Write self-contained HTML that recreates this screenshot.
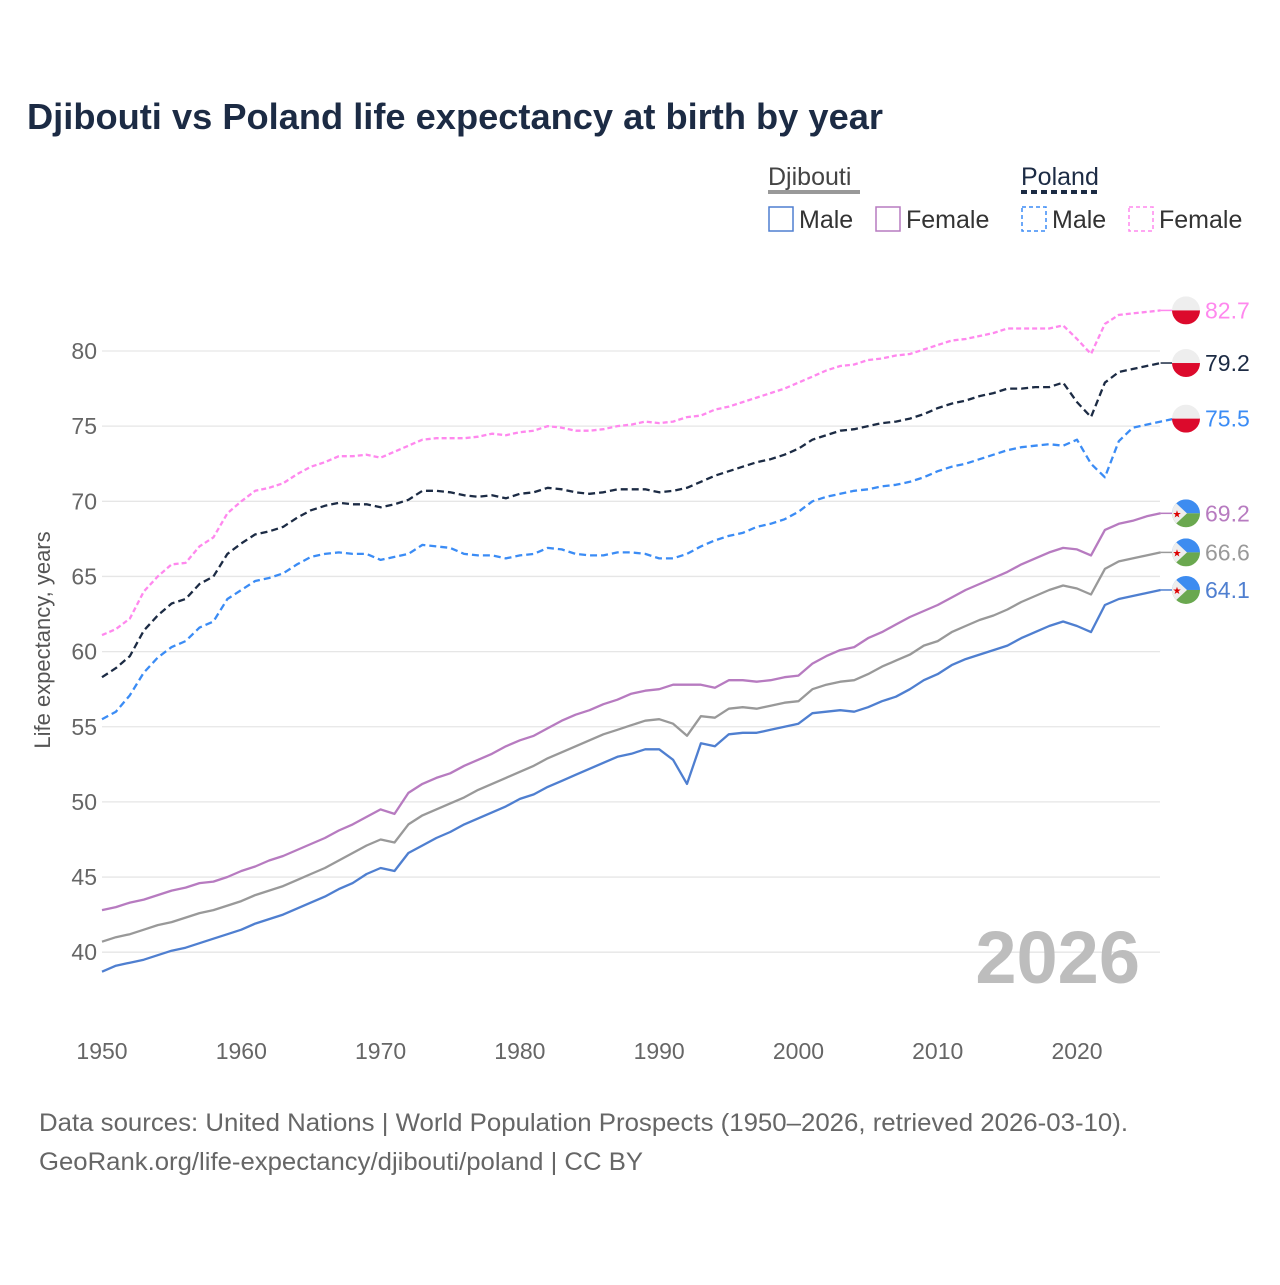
<!DOCTYPE html>
<html><head><meta charset="utf-8"><style>
body{margin:0;background:#fff;width:1280px;height:1280px;overflow:hidden;font-family:"Liberation Sans",sans-serif}
</style></head><body>
<svg id="chart" width="1280" height="1280" xmlns="http://www.w3.org/2000/svg" font-family="Liberation Sans, sans-serif">
<text x="27" y="129" font-size="36" font-weight="bold" fill="#1c2b44" textLength="856" lengthAdjust="spacingAndGlyphs">Djibouti vs Poland life expectancy at birth by year</text>
<g font-size="25" fill="#333">
<text x="768" y="185" fill="#444">Djibouti</text>
<line x1="768" y1="192" x2="860" y2="192" stroke="#999" stroke-width="4"/>
<text x="1021" y="185" fill="#1c2b44">Poland</text>
<line x1="1021" y1="192" x2="1100" y2="192" stroke="#1c2b44" stroke-width="4" stroke-dasharray="6,4"/>
<g><rect x="769" y="207" width="24" height="24" fill="none" stroke="#4f7fd0" stroke-width="1.5"/><text x="799" y="228">Male</text></g>
<g><rect x="876" y="207" width="24" height="24" fill="none" stroke="#b77bc0" stroke-width="1.5"/><text x="906" y="228">Female</text></g>
<g><rect x="1022" y="207" width="24" height="24" fill="none" stroke="#3b8cf5" stroke-width="1.5" stroke-dasharray="4,3"/><text x="1052" y="228">Male</text></g>
<g><rect x="1129" y="207" width="24" height="24" fill="none" stroke="#ff88ee" stroke-width="1.5" stroke-dasharray="4,3"/><text x="1159" y="228">Female</text></g>
</g>
<g id="grid"></g><g id="yticks"></g><g id="xticks"></g>
<text x="1140" y="983" font-size="74" font-weight="bold" fill="#bdbdbd" text-anchor="end">2026</text>
<g id="series"></g><g id="ends"></g>
<text transform="translate(50,640) rotate(-90)" font-size="22" fill="#555" text-anchor="middle">Life expectancy, years</text>
<text x="39" y="1131" font-size="25" fill="#666" textLength="1089" lengthAdjust="spacingAndGlyphs">Data sources: United Nations | World Population Prospects (1950–2026, retrieved 2026-03-10).</text>
<text x="39" y="1170" font-size="25" fill="#666" textLength="604" lengthAdjust="spacingAndGlyphs">GeoRank.org/life-expectancy/djibouti/poland | CC BY</text>
</svg>
<script>
const startYear = 1950;
const yTicks = [40,45,50,55,60,65,70,75,80];
const xTicks = [1950,1960,1970,1980,1990,2000,2010,2020];
const polandFemale = [61.1,61.5,62.2,64.0,65.0,65.8,65.9,67.0,67.6,69.2,70.0,70.7,70.9,71.2,71.8,72.3,72.6,73.0,73.0,73.1,72.9,73.3,73.7,74.1,74.2,74.2,74.2,74.3,74.5,74.4,74.6,74.7,75.0,74.9,74.7,74.7,74.8,75.0,75.1,75.3,75.2,75.3,75.6,75.7,76.1,76.3,76.6,76.9,77.2,77.5,77.9,78.3,78.7,79.0,79.1,79.4,79.5,79.7,79.8,80.1,80.4,80.7,80.8,81.0,81.2,81.5,81.5,81.5,81.5,81.7,80.8,79.8,81.8,82.4,82.5,82.6,82.7];
const polandTotal = [58.3,58.9,59.7,61.4,62.4,63.2,63.5,64.5,65.0,66.5,67.2,67.8,68.0,68.3,68.9,69.4,69.7,69.9,69.8,69.8,69.6,69.8,70.1,70.7,70.7,70.6,70.4,70.3,70.4,70.2,70.5,70.6,70.9,70.8,70.6,70.5,70.6,70.8,70.8,70.8,70.6,70.7,70.9,71.3,71.7,72.0,72.3,72.6,72.8,73.1,73.5,74.1,74.4,74.7,74.8,75.0,75.2,75.3,75.5,75.8,76.2,76.5,76.7,77.0,77.2,77.5,77.5,77.6,77.6,77.9,76.6,75.6,77.9,78.6,78.8,79.0,79.2];
const polandMale = [55.5,56.0,57.1,58.6,59.6,60.3,60.7,61.6,62.0,63.5,64.1,64.7,64.9,65.2,65.8,66.3,66.5,66.6,66.5,66.5,66.1,66.3,66.5,67.1,67.0,66.9,66.5,66.4,66.4,66.2,66.4,66.5,66.9,66.8,66.5,66.4,66.4,66.6,66.6,66.5,66.2,66.2,66.5,67.0,67.4,67.7,67.9,68.3,68.5,68.8,69.3,70.0,70.3,70.5,70.7,70.8,71.0,71.1,71.3,71.6,72.0,72.3,72.5,72.8,73.1,73.4,73.6,73.7,73.8,73.7,74.1,72.5,71.6,74.0,74.9,75.1,75.3,75.5];
const djiboutiFemale = [42.8,43.0,43.3,43.5,43.8,44.1,44.3,44.6,44.7,45.0,45.4,45.7,46.1,46.4,46.8,47.2,47.6,48.1,48.5,49.0,49.5,49.2,50.6,51.2,51.6,51.9,52.4,52.8,53.2,53.7,54.1,54.4,54.9,55.4,55.8,56.1,56.5,56.8,57.2,57.4,57.5,57.8,57.8,57.8,57.6,58.1,58.1,58.0,58.1,58.3,58.4,59.2,59.7,60.1,60.3,60.9,61.3,61.8,62.3,62.7,63.1,63.6,64.1,64.5,64.9,65.3,65.8,66.2,66.6,66.9,66.8,66.4,68.1,68.5,68.7,69.0,69.2];
const djiboutiTotal = [40.7,41.0,41.2,41.5,41.8,42.0,42.3,42.6,42.8,43.1,43.4,43.8,44.1,44.4,44.8,45.2,45.6,46.1,46.6,47.1,47.5,47.3,48.5,49.1,49.5,49.9,50.3,50.8,51.2,51.6,52.0,52.4,52.9,53.3,53.7,54.1,54.5,54.8,55.1,55.4,55.5,55.2,54.4,55.7,55.6,56.2,56.3,56.2,56.4,56.6,56.7,57.5,57.8,58.0,58.1,58.5,59.0,59.4,59.8,60.4,60.7,61.3,61.7,62.1,62.4,62.8,63.3,63.7,64.1,64.4,64.2,63.8,65.5,66.0,66.2,66.4,66.6];
const djiboutiMale = [38.7,39.1,39.3,39.5,39.8,40.1,40.3,40.6,40.9,41.2,41.5,41.9,42.2,42.5,42.9,43.3,43.7,44.2,44.6,45.2,45.6,45.4,46.6,47.1,47.6,48.0,48.5,48.9,49.3,49.7,50.2,50.5,51.0,51.4,51.8,52.2,52.6,53.0,53.2,53.5,53.5,52.8,51.2,53.9,53.7,54.5,54.6,54.6,54.8,55.0,55.2,55.9,56.0,56.1,56.0,56.3,56.7,57.0,57.5,58.1,58.5,59.1,59.5,59.8,60.1,60.4,60.9,61.3,61.7,62.0,61.7,61.3,63.1,63.5,63.7,63.9,64.1];

const NS='http://www.w3.org/2000/svg';
const X0=102, X1=1160.6, Y80=351, PX=15.03;
function xs(year){return X0+(year-1950)*(X1-X0)/76;}
function ys(v){return Y80-(v-80)*PX;}
function mk(tag,attrs,parent){const e=document.createElementNS(NS,tag);for(const k in attrs)e.setAttribute(k,attrs[k]);parent.appendChild(e);return e;}
const grid=document.getElementById('grid'),yt=document.getElementById('yticks'),xt=document.getElementById('xticks');
yTicks.forEach(v=>{
  const l=mk('line',{x1:102,x2:1160,y1:ys(v),y2:ys(v),stroke:'#e6e6e6','stroke-width':1.3},grid);
  
  
  const t=mk('text',{x:97,y:ys(v)+8,'font-size':23,fill:'#666','text-anchor':'end'},yt);
  t.textContent=v;
  
  
});
xTicks.forEach(y=>{
  const t=mk('text',{x:xs(y),y:1059,'font-size':23,fill:'#666','text-anchor':'middle'},xt);
  t.textContent=y;
  
  
});
const series=[
 ['poland-female',polandFemale,'#ff88ee','5,3','pl'],
 ['poland-total',polandTotal,'#1c2b44','7,4','pl'],
 ['poland-male',polandMale,'#3b8cf5','7,4','pl'],
 ['djibouti-female',djiboutiFemale,'#b77bc0','','dj'],
 ['djibouti-total',djiboutiTotal,'#999999','','dj'],
 ['djibouti-male',djiboutiMale,'#4f7fd0','','dj']];
const sg=document.getElementById('series'),eg=document.getElementById('ends');
series.forEach(([name,data,col,dash,flag])=>{
  const d=data.map((v,i)=>(i?'L':'M')+xs(startYear+i).toFixed(1)+','+ys(v).toFixed(1)).join('');
  const p=mk('path',{d:d,fill:'none',stroke:col,'stroke-width':2.3,'stroke-dasharray':dash,'stroke-linejoin':'round'},sg);
  
  
  const last=data[data.length-1], ly=ys(last), cx=1186;
  const g=mk('g',{},eg);
  
  
  mk('line',{x1:xs(startYear+data.length-1),x2:cx-14,y1:ly,y2:ly,stroke:col,'stroke-width':1.5},g);
  const cp='clip-'+name;
  const c=mk('clipPath',{id:cp},g);mk('circle',{cx:cx,cy:ly,r:14},c);
  const f=mk('g',{'clip-path':'url(#'+cp+')'},g);
  if(flag==='pl'){
    mk('rect',{x:cx-14,y:ly-14,width:28,height:14,fill:'#eeeeee'},f);
    mk('rect',{x:cx-14,y:ly,width:28,height:14,fill:'#dc0a2c'},f);
  } else {
    mk('rect',{x:cx-14,y:ly-14,width:28,height:14,fill:'#3d8cf0'},f);
    mk('rect',{x:cx-14,y:ly,width:28,height:14,fill:'#6aa84f'},f);
    mk('polygon',{points:(cx-14)+','+(ly-14)+' '+(cx+1)+','+ly+' '+(cx-14)+','+(ly+14),fill:'#eeeeee'},f);
    const s=mk('text',{x:cx-9,y:ly+4,'font-size':10,fill:'#d00','text-anchor':'middle'},f);s.textContent='★';
  }
  const t=mk('text',{x:1205,y:ly+8,'font-size':23,fill:col},g);
  t.textContent=last.toFixed(1);
});
</script>
</body></html>
